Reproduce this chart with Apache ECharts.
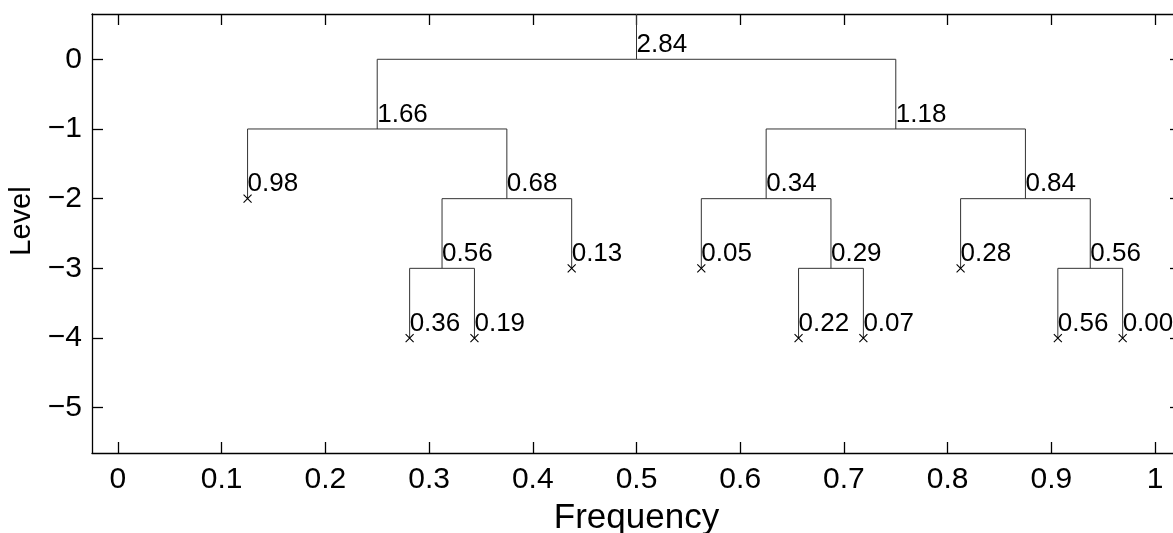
<!DOCTYPE html>
<html>
<head>
<meta charset="utf-8">
<script src="https://cdn.jsdelivr.net/npm/echarts@6/dist/echarts.min.js"></script>
<style>
html,body{margin:0;padding:0;background:#fff;}
#chart{width:1173px;height:533px;}
</style>
</head>
<body>
<div id="chart"></div>
<script>
// Wavelet packet tree nodes: depth, index within depth, energy value
var nodeDepth = [0, 1, 1, 2, 2, 2, 2, 3, 3, 3, 3, 3, 3, 4, 4, 4, 4, 4, 4];
var nodeIndex = [0, 0, 1, 0, 1, 2, 3, 2, 3, 4, 5, 6, 7, 4, 5, 10, 11, 14, 15];
var nodeValue = [2.84, 1.66, 1.18, 0.98, 0.68, 0.34, 0.84, 0.56, 0.13, 0.05, 0.29, 0.28, 0.56, 0.36, 0.19, 0.22, 0.07, 0.56, 0.00];
var xTicks = [0, 0.1, 0.2, 0.3, 0.4, 0.5, 0.6, 0.7, 0.8, 0.9, 1];
var yTicks = [0, -1, -2, -3, -4, -5];
var xRange = [-0.025, 1.025];
var yRange = [-5.65, 0.65];

var FONT = '"Liberation Sans", Arial, Helvetica, sans-serif';

function key(d, i) { return d + '_' + i; }
var nodeMap = {};
var nodes = [];
for (var k = 0; k < nodeDepth.length; k++) {
  var d = nodeDepth[k], i = nodeIndex[k];
  var n = { d: d, i: i, v: nodeValue[k], x: (i + 0.5) / Math.pow(2, d), y: -d };
  nodes.push(n);
  nodeMap[key(d, i)] = n;
}
var brackets = [];
var leaves = [];
nodes.forEach(function (n) {
  var l = nodeMap[key(n.d + 1, 2 * n.i)], r = nodeMap[key(n.d + 1, 2 * n.i + 1)];
  if (l && r) brackets.push([l.x, n.y, r.x, l.y]);
  else leaves.push([n.x, n.y]);
});
var labelData = nodes.map(function (n) { return [n.x, n.y, n.v.toFixed(2)]; });
var root = nodes[0];

function fmtNum(v) {
  var s = String(Math.round(v * 100) / 100);
  return s.replace('-', '\u2212');
}

var axisLineStyle = { color: '#000', width: 1.3 };
var tickStyle = { color: '#000', width: 1.3 };

var chart = echarts.init(document.getElementById('chart'), null, { renderer: 'canvas' });
chart.setOption({
  backgroundColor: '#fff',
  animation: false,
  grid: { left: 92, right: -8, top: 14, bottom: 80, containLabel: false, outerBoundsMode: 'none' },
  xAxis: [{
    type: 'value', min: xRange[0], max: xRange[1], position: 'bottom',
    axisLine: { show: true, onZero: false, lineStyle: axisLineStyle },
    axisTick: { show: true, inside: true, length: 11, lineStyle: tickStyle, customValues: xTicks },
    axisLabel: { show: true, customValues: xTicks, formatter: fmtNum, color: '#000', fontSize: 30, fontFamily: FONT, margin: 12 },
    splitLine: { show: false },
    name: 'Frequency', nameLocation: 'middle', nameGap: 40,
    nameTextStyle: { color: '#000', fontSize: 35, fontFamily: FONT, verticalAlign: 'top', lineHeight: 36 }
  }, {
    type: 'value', min: xRange[0], max: xRange[1], position: 'top',
    axisLine: { show: true, onZero: false, lineStyle: axisLineStyle },
    axisTick: { show: true, inside: true, length: 11, lineStyle: tickStyle, customValues: xTicks },
    axisLabel: { show: false },
    splitLine: { show: false }
  }],
  yAxis: [{
    type: 'value', min: yRange[0], max: yRange[1], position: 'left',
    axisLine: { show: true, onZero: false, lineStyle: axisLineStyle },
    axisTick: { show: true, inside: true, length: 11, lineStyle: tickStyle, customValues: yTicks },
    axisLabel: { show: true, customValues: yTicks, formatter: fmtNum, color: '#000', fontSize: 30, fontFamily: FONT, margin: 10 },
    splitLine: { show: false },
    name: 'Level', nameLocation: 'middle', nameGap: 53,
    nameTextStyle: { color: '#000', fontSize: 29, fontFamily: FONT, padding: [0, 0, 0, 25] }
  }, {
    type: 'value', min: yRange[0], max: yRange[1], position: 'right',
    axisLine: { show: true, onZero: false, lineStyle: axisLineStyle },
    axisTick: { show: true, inside: true, length: 11, lineStyle: tickStyle, customValues: yTicks },
    axisLabel: { show: false },
    splitLine: { show: false }
  }],
  series: [{
    type: 'custom',
    xAxisIndex: 0, yAxisIndex: 0,
    clip: true,
    data: brackets,
    renderItem: function (params, api) {
      var p1 = api.coord([api.value(0), api.value(3)]);
      var p2 = api.coord([api.value(0), api.value(1)]);
      var p3 = api.coord([api.value(2), api.value(1)]);
      var p4 = api.coord([api.value(2), api.value(3)]);
      return {
        type: 'polyline',
        shape: { points: [p1, p2, p3, p4] },
        style: { stroke: '#333', lineWidth: 1, fill: null }
      };
    },
    silent: true
  }, {
    type: 'custom',
    clip: true,
    data: [[root.x, root.y]],
    renderItem: function (params, api) {
      var a = api.coord([api.value(0), api.value(1)]);
      var b = api.coord([api.value(0), yRange[1]]);
      return {
        type: 'line',
        shape: { x1: a[0], y1: a[1], x2: b[0], y2: b[1] },
        style: { stroke: '#333', lineWidth: 1 }
      };
    },
    silent: true
  }, {
    type: 'scatter',
    data: leaves,
    symbol: 'path://M0,0L10,10M10,0L0,10',
    symbolSize: 8,
    itemStyle: { color: 'none', borderColor: '#000', borderWidth: 1.1, opacity: 1 },
    silent: true
  }, {
    type: 'scatter',
    data: labelData,
    symbolSize: 0,
    silent: true,
    itemStyle: { opacity: 1 },
    label: {
      show: true,
      position: [0, 0],
      align: 'left',
      verticalAlign: 'bottom',
      formatter: function (p) { return p.data[2]; },
      color: '#000',
      opacity: 1,
      fontSize: 26,
      fontFamily: FONT,
      lineHeight: 29
    }
  }]
});
</script>
</body>
</html>
